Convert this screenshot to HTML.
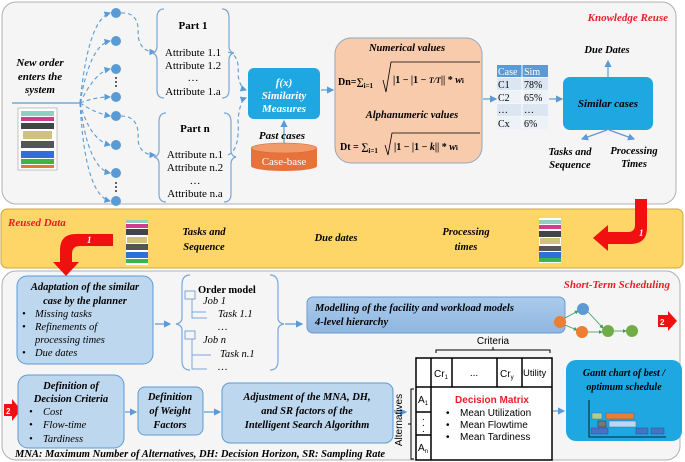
<!DOCTYPE html>
<html><head><meta charset="utf-8"><style>
html,body{margin:0;padding:0;background:#fff;}
svg{display:block;font-family:"Liberation Serif",serif;}
.bi{font-weight:bold;font-style:italic;}
.sans{font-family:"Liberation Sans",sans-serif;}
</style></head><body>
<svg width="685" height="462" viewBox="0 0 685 462" xmlns="http://www.w3.org/2000/svg">
<defs>
<marker id="ab" markerWidth="6" markerHeight="6" refX="5" refY="3" orient="auto"><path d="M0,0 L6,3 L0,6 z" fill="#5b9bd5"/></marker>
<marker id="ag" markerWidth="5" markerHeight="5" refX="4" refY="2.5" orient="auto"><path d="M0,0 L5,2.5 L0,5 z" fill="#3a9a5a"/></marker>
<linearGradient id="mg" x1="0" y1="0" x2="0" y2="1"><stop offset="0" stop-color="#aacbec"/><stop offset="1" stop-color="#8fb6e0"/></linearGradient>
</defs>
<!-- panels -->
<rect x="2" y="2" width="674" height="202" rx="14" fill="#f5f5f5" stroke="#b0b0b0"/>
<rect x="1" y="209" width="682" height="59" rx="6" fill="#fdd667" stroke="#c9a93c"/>
<rect x="2" y="271" width="678" height="189" rx="14" fill="#f5f5f5" stroke="#b0b0b0"/>

<!-- TOP -->
<text x="40" y="66" class="bi" font-size="11" text-anchor="middle">New order</text>
<text x="40" y="80" class="bi" font-size="11" text-anchor="middle">enters the</text>
<text x="40" y="93" class="bi" font-size="11" text-anchor="middle">system</text>
<line x1="12" y1="103" x2="80" y2="103" stroke="#5b9bd5" stroke-width="1.2"/>
<g>
<rect x="18" y="108" width="39" height="62" fill="#fff" stroke="#888" stroke-width="0.5"/>
<rect x="21" y="111" width="33" height="5" fill="#8fd0c0"/><rect x="21" y="117" width="33" height="4" fill="#d23c8c"/>
<rect x="21" y="123" width="33" height="6" fill="#444"/><rect x="23" y="131" width="29" height="8" fill="#cfc27a"/>
<rect x="21" y="141" width="33" height="7" fill="#555"/><rect x="21" y="151" width="33" height="7" fill="#2f6fd8"/>
<rect x="21" y="159" width="33" height="5" fill="#3cb44a"/><rect x="21" y="165" width="33" height="3" fill="#e07a2a"/>
</g>
<!-- fan -->
<g fill="none" stroke="#5b9bd5" stroke-width="1.1" stroke-dasharray="4,3" marker-end="url(#ab)">
<path d="M80,103 Q88,20 110,13"/><path d="M80,103 Q90,45 110,41"/><path d="M80,103 Q95,72 110,69"/><path d="M80,103 Q95,97 110,97"/>
<path d="M80,103 Q95,113 110,116"/><path d="M80,103 Q90,140 110,145"/><path d="M80,103 Q88,168 110,173"/><path d="M80,103 Q85,195 110,201"/>
<path d="M121,13 Q140,12 138,35 Q140,52 155,52"/><path d="M121,116 Q140,116 138,140 Q140,155 155,155"/>
<path d="M228,52 Q240,55 238,75 Q240,88 246,90"/><path d="M228,155 Q240,150 238,120 Q240,100 246,98"/>
</g>
<g fill="#5b9bd5"><circle cx="116" cy="13" r="5"/><circle cx="116" cy="41" r="5"/><circle cx="116" cy="69" r="5"/><circle cx="116" cy="97" r="5"/><circle cx="116" cy="116" r="5"/><circle cx="116" cy="145" r="5"/><circle cx="116" cy="173" r="5"/><circle cx="116" cy="201" r="5"/></g>
<g fill="#333"><circle cx="116" cy="78" r="1"/><circle cx="116" cy="82" r="1"/><circle cx="116" cy="86" r="1"/><circle cx="116" cy="183" r="1"/><circle cx="116" cy="187" r="1"/><circle cx="116" cy="191" r="1"/></g>
<!-- braces -->
<g fill="none" stroke="#7aa7d8" stroke-width="1.2">
<path d="M164,9 Q157,9 157,18 L157,46 Q157,52 152,53 Q157,54 157,60 L157,90 Q157,98 164,98"/>
<path d="M222,9 Q229,9 229,18 L229,46 Q229,52 234,53 Q229,54 229,60 L229,90 Q229,98 222,98"/>
<path d="M166,113 Q159,113 159,122 L159,150 Q159,156 154,157 Q159,158 159,164 L159,194 Q159,202 166,202"/>
<path d="M224,113 Q231,113 231,122 L231,150 Q231,156 236,157 Q231,158 231,164 L231,194 Q231,202 224,202"/>
</g>
<g font-size="11" text-anchor="middle">
<text x="193" y="29" font-weight="bold">Part 1</text>
<text x="193" y="56">Attribute 1.1</text><text x="193" y="69">Attribute 1.2</text><text x="193" y="81">…</text><text x="193" y="95">Attribute 1.a</text>
<text x="195" y="132" font-weight="bold">Part n</text>
<text x="195" y="158">Attribute n.1</text><text x="195" y="171">Attribute n.2</text><text x="195" y="184">…</text><text x="195" y="197">Attribute n.a</text>
</g>
<rect x="248" y="68" width="72" height="51" rx="6" fill="#1ea7e1"/>
<g class="bi" fill="#fff" font-size="11" text-anchor="middle"><text x="284" y="86">f(x)</text><text x="284" y="99">Similarity</text><text x="284" y="112">Measures</text></g>
<line x1="284" y1="143" x2="284" y2="121" stroke="#5b9bd5" stroke-width="1.2" marker-end="url(#ab)"/>
<text x="282" y="139" class="bi" font-size="11" text-anchor="middle">Past cases</text>
<path d="M251,148 L251,166 A33,5 0 0 0 317,166 L317,148" fill="#e8733a"/>
<ellipse cx="284" cy="148" rx="33" ry="5" fill="#f19a6a" stroke="#d8652c" stroke-width="0.5"/>
<text x="284" y="165" font-size="11" fill="#fff" text-anchor="middle">Case-base</text>
<line x1="321" y1="90" x2="333" y2="90" stroke="#5b9bd5" stroke-width="1.2" marker-end="url(#ab)"/>
<!-- formula box -->
<rect x="335" y="38" width="147" height="125" rx="16" fill="#f8cbad" stroke="#8fa8c0"/>
<g class="bi" font-size="10.5" text-anchor="middle"><text x="407" y="51">Numerical values</text><text x="412" y="118">Alphanumeric values</text></g>
<g font-size="10" font-weight="bold">
<text x="338" y="85">Dn=∑<tspan font-size="7" dy="3">i=1</tspan><tspan dy="-3"> </tspan></text>
<path d="M383,80 L386,92 L391,62 L480,62" fill="none" stroke="#000" stroke-width="0.8"/>
<text x="393" y="83">|1 − |1 − <tspan font-style="italic" font-size="8">T/T</tspan>|| * <tspan font-style="italic">w</tspan><tspan font-size="7">i</tspan></text>
<text x="340" y="150">Dt = ∑<tspan font-size="7" dy="3">i=1</tspan></text>
<path d="M385,145 L388,155 L392,133 L480,133" fill="none" stroke="#000" stroke-width="0.8"/>
<text x="394" y="150">|1 − |1 − <tspan font-style="italic">k</tspan>|| * <tspan font-style="italic">w</tspan><tspan font-size="7">i</tspan></text>
</g>
<line x1="483" y1="99" x2="496" y2="99" stroke="#5b9bd5" stroke-width="1.2" marker-end="url(#ab)"/>
<!-- table -->
<rect x="497" y="65" width="51" height="12" fill="#5b9bd5"/>
<rect x="497" y="78" width="51" height="12" fill="#dce6f2"/><rect x="497" y="91" width="51" height="12" fill="#edf2f9"/>
<rect x="497" y="104" width="51" height="12" fill="#dce6f2"/><rect x="497" y="117" width="51" height="12" fill="#edf2f9"/>
<line x1="522" y1="65" x2="522" y2="129" stroke="#fff"/>
<g font-size="10"><text x="498" y="75" fill="#fff">Case</text><text x="524" y="75" fill="#fff">Sim</text>
<text x="498" y="88">C1</text><text x="524" y="88">78%</text><text x="498" y="101">C2</text><text x="524" y="101">65%</text>
<text x="498" y="113">…</text><text x="524" y="113">…</text><text x="498" y="127">Cx</text><text x="524" y="127">6%</text></g>
<line x1="549" y1="99" x2="562" y2="99" stroke="#5b9bd5" stroke-width="1.2" marker-end="url(#ab)"/>
<rect x="563" y="77" width="90" height="53" rx="7" fill="#1ea7e1"/>
<text x="608" y="107" class="bi" font-size="11" text-anchor="middle">Similar cases</text>
<g stroke="#5b9bd5" stroke-width="1.2" marker-end="url(#ab)"><line x1="608" y1="77" x2="608" y2="61"/><line x1="607" y1="130" x2="582" y2="139"/><line x1="609" y1="130" x2="634" y2="139"/></g>
<g class="bi" font-size="10.5" text-anchor="middle"><text x="607" y="53">Due Dates</text>
<text x="570" y="155">Tasks and</text><text x="570" y="168">Sequence</text><text x="634" y="154">Processing</text><text x="634" y="167">Times</text></g>
<text x="668" y="21" class="bi" font-size="11" fill="#ee1c25" text-anchor="end">Knowledge Reuse</text>
<!-- right red arrow -->
<path d="M635,199 L647,199 L647,228 Q647,244 630,244 L608,244 L608,251 L593,238 L608,225 L608,232 L628,232 Q635,232 635,225 Z" fill="#f01010"/>
<text x="639" y="236" fill="#fff" class="bi" font-size="9">1</text>

<!-- YELLOW -->
<text x="8" y="226" class="bi" font-size="11" fill="#ee1c25">Reused Data</text>
<path d="M113,234 L113,246 L80,246 Q72,246 72,254 L72,262 L79,262 L66,276 L53,262 L60,262 L60,250 Q60,234 76,234 Z" fill="#f01010"/>
<text x="87" y="243" fill="#fff" class="bi" font-size="9">1</text>
<g>
<rect x="126" y="220" width="22" height="45" fill="#fff"/>
<rect x="126" y="220" width="22" height="3" fill="#8fd0c0"/><rect x="126" y="224" width="22" height="4" fill="#d23c8c"/><rect x="126" y="229" width="22" height="6" fill="#444"/><rect x="127" y="237" width="20" height="6" fill="#cfc27a"/><rect x="126" y="244" width="22" height="6" fill="#555"/><rect x="126" y="252" width="22" height="6" fill="#2f6fd8"/><rect x="126" y="259" width="22" height="4" fill="#3cb44a"/>
<rect x="539" y="218" width="22" height="45" fill="#fff"/>
<rect x="539" y="220" width="22" height="4" fill="#8fd0c0"/><rect x="539" y="225" width="22" height="4" fill="#d23c8c"/><rect x="539" y="231" width="22" height="6" fill="#444"/><rect x="540" y="238" width="20" height="6" fill="#cfc27a"/><rect x="539" y="246" width="22" height="5" fill="#555"/><rect x="539" y="252" width="22" height="6" fill="#2f6fd8"/><rect x="539" y="258" width="22" height="4" fill="#3cb44a"/>
</g>
<g class="bi" font-size="10.5" text-anchor="middle"><text x="204" y="235">Tasks and</text><text x="204" y="250">Sequence</text>
<text x="336" y="241">Due dates</text><text x="466" y="235">Processing</text><text x="466" y="250">times</text></g>

<!-- BOTTOM -->
<text x="670" y="288" class="bi" font-size="11" fill="#ee1c25" text-anchor="end">Short-Term Scheduling</text>
<rect x="17" y="276" width="136" height="88" rx="10" fill="#bdd7ee" stroke="#5b9bd5"/>
<g class="bi" font-size="10.5" text-anchor="middle"><text x="85" y="290">Adaptation of the similar</text><text x="85" y="304">case by the planner</text></g>
<g font-size="10.5" font-style="italic"><text x="22" y="317">•</text><text x="35" y="317">Missing tasks</text><text x="22" y="330">•</text><text x="35" y="330">Refinements of</text><text x="35" y="343">processing times</text><text x="22" y="356">•</text><text x="35" y="356">Due dates</text></g>
<line x1="155" y1="324" x2="170" y2="324" stroke="#5b9bd5" stroke-width="1.2" marker-end="url(#ab)"/>
<g fill="none" stroke="#7aa7d8" stroke-width="1.2">
<path d="M190,275 Q182,275 182,285 L182,318 Q182,323 176,324 Q182,325 182,330 L182,361 Q182,370 190,370"/>
<path d="M270,275 Q278,275 278,285 L278,318 Q278,323 284,324 Q278,325 278,330 L278,361 Q278,370 270,370"/>
</g>
<line x1="285" y1="324" x2="302" y2="324" stroke="#5b9bd5" stroke-width="1.2" marker-end="url(#ab)"/>
<g stroke="#7aa7d8" fill="none"><rect x="185" y="291" width="10" height="8"/><rect x="185" y="331" width="10" height="8"/>
<path d="M192,299 L192,318 L207,318 M192,312 L206,312 M192,339 L192,369 L207,369 M192,355 L211,355"/></g>
<g font-size="10.5"><text x="198" y="293" font-weight="bold">Order model</text>
<g font-style="italic"><text x="203" y="304">Job 1</text><text x="218" y="317">Task 1.1</text><text x="218" y="330">…</text><text x="203" y="343">Job n</text><text x="220" y="357">Task n.1</text><text x="218" y="370">…</text></g></g>
<rect x="307" y="297" width="258" height="36" rx="6" fill="url(#mg)" stroke="#6b9bd0"/>
<g class="bi" font-size="10.5"><text x="315" y="311">Modelling of the facility and workload models</text><text x="315" y="325">4-level hierarchy</text></g>
<g stroke="#3a9a5a" stroke-width="0.8" marker-end="url(#ag)"><line x1="565" y1="318" x2="578" y2="311"/><line x1="565" y1="325" x2="577" y2="330"/><line x1="588" y1="312" x2="603" y2="328"/><line x1="587" y1="332" x2="602" y2="332"/><line x1="614" y1="331" x2="626" y2="331"/></g>
<circle cx="560" cy="322" r="6" fill="#ed7d31"/><circle cx="583" cy="309" r="6" fill="#5b9bd5"/><circle cx="582" cy="332" r="6" fill="#ed7d31"/><circle cx="608" cy="331" r="6" fill="#70ad47"/><circle cx="632" cy="331" r="6" fill="#70ad47"/>
<path d="M658,315 L668,315 L668,311 L677,321 L668,331 L668,327 L658,327 Z" fill="#f01010"/>
<text x="660" y="325" fill="#fff" font-size="8" font-weight="bold" class="sans">2</text>
<!-- row 2 -->
<path d="M4,404 L12,404 L12,399 L21,410 L12,421 L12,416 L4,416 Z" fill="#f01010"/>
<text x="6" y="414" fill="#fff" font-size="8" font-weight="bold" class="sans">2</text>
<rect x="18" y="375" width="106" height="73" rx="10" fill="#bdd7ee" stroke="#5b9bd5"/>
<g class="bi" font-size="10.5" text-anchor="middle"><text x="71" y="389">Definition of</text><text x="71" y="402">Decision Criteria</text></g>
<g font-size="10.5" font-style="italic"><text x="29" y="415">•</text><text x="43" y="415">Cost</text><text x="29" y="428">•</text><text x="43" y="428">Flow-time</text><text x="29" y="442">•</text><text x="43" y="442">Tardiness</text></g>
<line x1="125" y1="412" x2="136" y2="412" stroke="#5b9bd5" stroke-width="1.2" marker-end="url(#ab)"/>
<rect x="138" y="387" width="65" height="48" rx="7" fill="#bdd7ee" stroke="#5b9bd5"/>
<g class="bi" font-size="10.5" text-anchor="middle"><text x="170" y="400">Definition</text><text x="170" y="414">of Weight</text><text x="170" y="428">Factors</text></g>
<line x1="204" y1="412" x2="220" y2="412" stroke="#5b9bd5" stroke-width="1.2" marker-end="url(#ab)"/>
<rect x="222" y="383" width="171" height="60" rx="8" fill="#bdd7ee" stroke="#5b9bd5"/>
<g class="bi" font-size="10.5" text-anchor="middle"><text x="307" y="400">Adjustment of the MNA, DH,</text><text x="307" y="414">and SR factors of the</text><text x="307" y="428">Intelligent Search Algorithm</text></g>
<line x1="394" y1="412" x2="406" y2="412" stroke="#5b9bd5" stroke-width="1.2" marker-end="url(#ab)"/>
<text x="402" y="420" font-size="10" class="sans" transform="rotate(-90 402 420)" text-anchor="middle">Alternatives</text>
<path d="M414,389 L411,389 L411,459 L414,459 M411,424 L408,424" fill="none" stroke="#000"/>
<!-- matrix -->
<rect x="416" y="358" width="136" height="102" fill="#fff" stroke="#000" stroke-width="1.5"/>
<g stroke="#000" stroke-width="1.5" fill="none">
<line x1="416" y1="387" x2="552" y2="387"/><line x1="431" y1="358" x2="431" y2="460"/>
<line x1="452" y1="358" x2="452" y2="387"/><line x1="497" y1="358" x2="497" y2="387"/><line x1="522" y1="358" x2="522" y2="387"/>
<line x1="416" y1="412" x2="431" y2="412"/><line x1="416" y1="435" x2="431" y2="435"/>
</g>
<path d="M436,353 L436,350 L550,350 L550,353 M493,350 L493,347" fill="none" stroke="#000"/>
<g class="sans" font-size="10"><text x="493" y="344" text-anchor="middle">Criteria</text>
<text x="434" y="377">Cr<tspan font-size="6" dy="2">1</tspan></text><text x="474" y="376" text-anchor="middle">...</text>
<text x="500" y="377">Cr<tspan font-size="6" dy="2">y</tspan></text><text x="523" y="376" font-size="9.5">Utility</text>
<text x="418" y="403">A<tspan font-size="6" dy="2">1</tspan></text><text x="422" y="420">.</text><text x="422" y="426">.</text><text x="422" y="432">.</text>
<text x="418" y="451">A<tspan font-size="6" dy="2">n</tspan></text>
<text x="492" y="403" fill="#ee1c25" font-weight="bold" text-anchor="middle">Decision Matrix</text>
<text x="446" y="416">•</text><text x="460" y="416">Mean Utilization</text>
<text x="446" y="428">•</text><text x="460" y="428">Mean Flowtime</text>
<text x="446" y="440">•</text><text x="460" y="440">Mean Tardiness</text></g>
<line x1="553" y1="411" x2="564" y2="411" stroke="#5b9bd5" stroke-width="1.2" marker-end="url(#ab)"/>
<rect x="566" y="360" width="116" height="81" rx="10" fill="#1ea7e1"/>
<g class="bi" font-size="10" text-anchor="middle"><text x="624" y="376">Gantt chart of best /</text><text x="624" y="390">optimum schedule</text></g>
<path d="M589,400 L589,437 L666,437" fill="none" stroke="#000" stroke-width="0.8"/>
<rect x="592" y="413" width="10" height="6" fill="#a9d18e" stroke="#3c68b0" stroke-width="0.5"/><rect x="606" y="413" width="28" height="6" fill="#ed7d31" stroke="#3c68b0" stroke-width="0.5"/>
<rect x="598" y="421" width="8" height="6" fill="#777" stroke="#333" stroke-width="0.5"/><rect x="609" y="421" width="27" height="6" fill="#bdd7ee" stroke="#3c68b0" stroke-width="0.5"/>
<rect x="591" y="428" width="17" height="6" fill="#4472c4" stroke="#2f528f" stroke-width="0.5"/><rect x="636" y="428" width="12" height="6" fill="#4472c4" stroke="#2f528f" stroke-width="0.5"/><rect x="651" y="428" width="13" height="6" fill="#4472c4" stroke="#2f528f" stroke-width="0.5"/>
<text x="15" y="457" class="bi" font-size="10.5">MNA: Maximum Number of Alternatives, DH: Decision Horizon, SR: Sampling Rate</text>
</svg>
</body></html>
